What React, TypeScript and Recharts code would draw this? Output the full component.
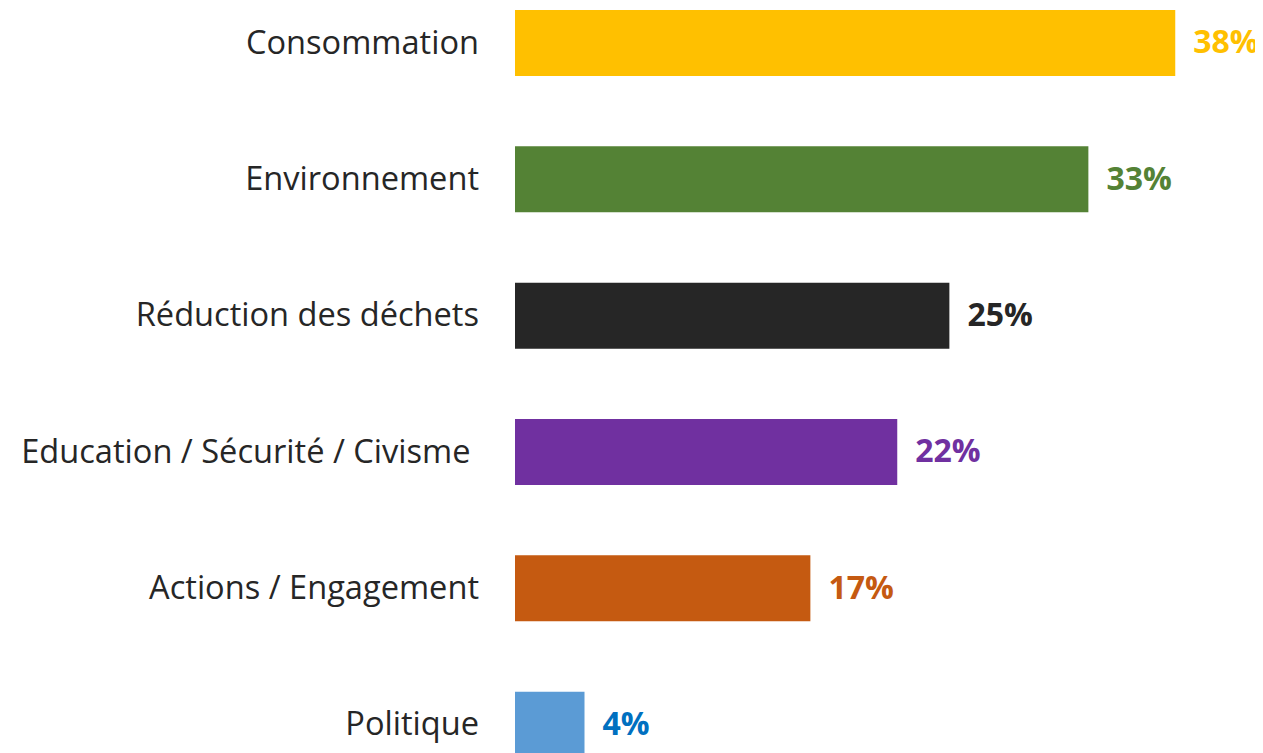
import React from 'react';
import { BarChart, Bar, XAxis, YAxis, Cell, LabelList } from 'recharts';

const categories = [
  'Consommation',
  'Environnement',
  'Réduction des déchets',
  'Education / Sécurité / Civisme ',
  'Actions / Engagement',
  'Politique',
];
const values = [38, 33, 25, 22, 17, 4];
const barColors = ['#FFC000', '#548235', '#262626', '#7030A0', '#C55A11', '#5B9BD5'];
const labelColors = ['#FFC000', '#548235', '#262626', '#7030A0', '#C55A11', '#0070C0'];

const data = categories.map((name, i) => ({ name, value: values[i] }));

const FONT = '"Open Sans", Calibri, sans-serif';

const YTick = (props: any) => {
  const { x, y, payload } = props;
  return (
    <text
      x={x}
      y={y}
      dy="0.32em"
      textAnchor="end"
      fill="#262626"
      fontSize={32.6}
      fontFamily={FONT}
      style={{ whiteSpace: 'pre' }}
    >
      {payload.value}
    </text>
  );
};

const ValueLabel = (props: any) => {
  const { x, y, width, height, value, index } = props;
  return (
    <text
      x={x + width + 18}
      y={y + height / 2}
      dy="0.32em"
      textAnchor="start"
      fill={labelColors[index]}
      fontSize={32}
      fontWeight="bold"
      fontFamily={FONT}
    >
      {value}%
    </text>
  );
};

export default function App() {
  return (
    <div style={{ marginTop: -33, fontFamily: FONT }}>
      <BarChart
        width={1255}
        height={818}
        data={data}
        layout="vertical"
        margin={{ top: 0, right: 53, bottom: 0, left: 0 }}
        barCategoryGap={0}
      >
        <XAxis type="number" domain={[0, 40]} hide />
        <YAxis
          type="category"
          dataKey="name"
          width={507}
          axisLine={false}
          tickLine={false}
          tickSize={0}
          tickMargin={36}
          tick={<YTick />}
          interval={0}
        />
        <Bar dataKey="value" barSize={66} isAnimationActive={false}>
          {data.map((d, i) => (
            <Cell key={d.name} fill={barColors[i]} />
          ))}
          <LabelList dataKey="value" content={<ValueLabel />} />
        </Bar>
      </BarChart>
    </div>
  );
}
